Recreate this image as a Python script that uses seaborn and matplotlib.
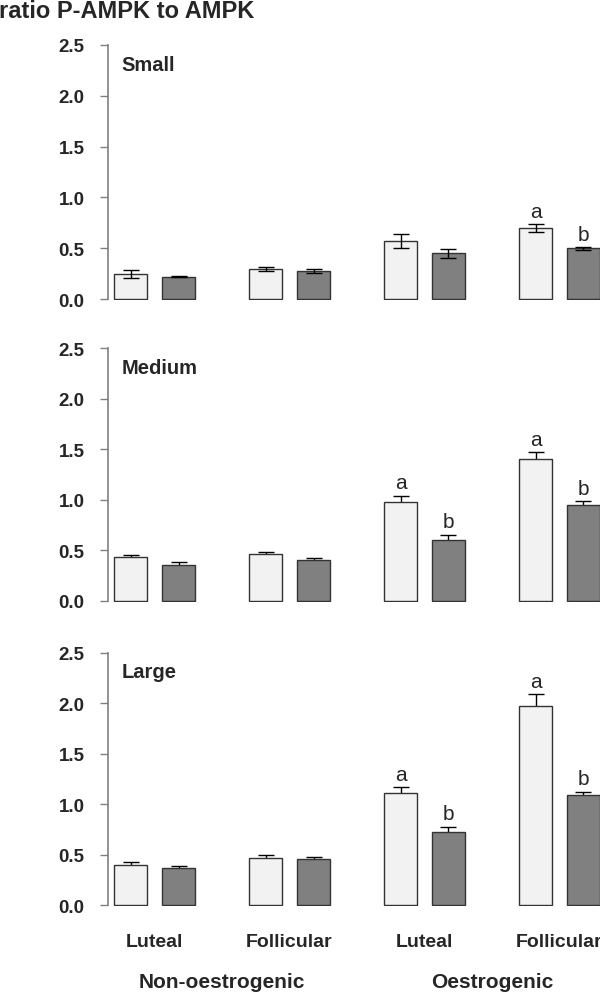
import numpy as np
import pandas as pd
import matplotlib.pyplot as plt
import matplotlib.transforms as mtransforms
import seaborn as sns

sns.set_style('white')
plt.rcParams['font.family'] = ['Liberation Sans', 'DejaVu Sans']

# ----------------------------------------
# DATA
# ----------------------------------------
sizes = ['Small', 'Medium', 'Large']
status = ['Non-oestrogenic', 'Oestrogenic']
phases = ['Luteal', 'Follicular']
series = ['light', 'dark']

# order: (Non-oes Luteal light, dark), (Non-oes Follicular light, dark),
#        (Oes Luteal light, dark), (Oes Follicular light, dark)
small_mean = [0.25, 0.22, 0.30, 0.28, 0.57, 0.45, 0.70, 0.50]
small_sem = [0.04, 0.005, 0.02, 0.02, 0.07, 0.045, 0.035, 0.013]
small_letters = ['', '', '', '', '', '', 'a', 'b']

medium_mean = [0.43, 0.35, 0.46, 0.405, 0.98, 0.60, 1.40, 0.95]
medium_sem = [0.02, 0.03, 0.02, 0.02, 0.06, 0.055, 0.068, 0.035]
medium_letters = ['', '', '', '', 'a', 'b', 'a', 'b']

large_mean = [0.40, 0.37, 0.47, 0.455, 1.11, 0.73, 1.97, 1.09]
large_sem = [0.025, 0.02, 0.025, 0.022, 0.06, 0.045, 0.12, 0.035]
large_letters = ['', '', '', '', 'a', 'b', 'a', 'b']

panels = [
    (small_mean, small_sem, small_letters),
    (medium_mean, medium_sem, medium_letters),
    (large_mean, large_sem, large_letters),
]

groups = [f'{s}|{p}' for s in status for p in phases]

fig = plt.figure(figsize=(6, 9.95), dpi=100)

# axes boxes (left, bottom, width, height) in figure fraction
boxes = [[0.18, 0.697, 0.82, 0.259],
         [0.18, 0.394, 0.82, 0.257],
         [0.18, 0.088, 0.82, 0.257]]

palette = {'light': '#f2f2f2', 'dark': '#808080'}

for k, (mean, sem, letters) in enumerate(panels):
    ax = fig.add_axes(boxes[k])
    df = pd.DataFrame({
        'group': [g for g in groups for _ in series],
        'series': series * len(groups),
        'value': mean,
    })
    sns.barplot(df, x='group', y='value', hue='series', order=groups,
                hue_order=series, palette=palette, width=0.71, gap=0.31,
                edgecolor='#333333', linewidth=1, errorbar=None,
                legend=False, ax=ax, zorder=2)

    # bar centres come from the drawn patches (container per hue level)
    xs = np.zeros(len(mean))
    for j, cont in enumerate(ax.containers):
        for i, bar in enumerate(cont):
            xs[i * 2 + j] = bar.get_x() + bar.get_width() / 2

    # small panel shows whole whiskers, others only the upper part
    ezo = 3 if k == 0 else 1.5
    ax.errorbar(xs, mean, yerr=sem, fmt='none', ecolor='black',
                elinewidth=1, capsize=6, capthick=1, zorder=ezo)

    for x, m, s, lab in zip(xs, mean, sem, letters):
        if lab:
            ax.annotate(lab, (x, m + s), xytext=(0, 2.5),
                        textcoords='offset points', ha='center',
                        va='bottom', fontsize=15, clip_on=False)

    ax.set_xlim(-0.345, 3.30)
    ax.set_ylim(-0.012, 2.52)
    ax.set_yticks([0.0, 0.5, 1.0, 1.5, 2.0, 2.5])
    ax.set_yticklabels(['0.0', '0.5', '1.0', '1.5', '2.0', '2.5'],
                       fontweight='bold', fontsize=13.5)
    ax.tick_params(axis='y', direction='out', length=6, width=1,
                   color='#808080', pad=11, left=True)
    for side in ['top', 'right', 'bottom']:
        ax.spines[side].set_visible(False)
    ax.spines['left'].set_color('#808080')
    ax.spines['left'].set_linewidth(1.2)
    ax.spines['left'].set_bounds(0, 2.5)
    ax.set_xlabel('')
    ax.set_ylabel('')

    ax.text(0.028, 2.31, sizes[k], transform=ax.get_yaxis_transform(),
            ha='left', va='center', fontsize=14.5, fontweight='bold')

    if k == 2:
        ax.set_xticks(range(len(groups)))
        ax.set_xticklabels([g.split('|')[1] for g in groups],
                           fontsize=14, fontweight='bold')
        ax.tick_params(axis='x', length=0, pad=19)
        trans = mtransforms.blended_transform_factory(ax.transData,
                                                      fig.transFigure)
        for n, s in enumerate(status):
            ax.text(2 * n + 0.5, 0.013, s, transform=trans, ha='center',
                    va='center', fontsize=15, fontweight='bold')
    else:
        ax.set_xticks([])

fig.text(-0.002, 1 - 12 / 995, 'ratio P-AMPK to AMPK', ha='left',
         va='center', fontsize=17, fontweight='bold')

fig.savefig('out.png', dpi=100)
